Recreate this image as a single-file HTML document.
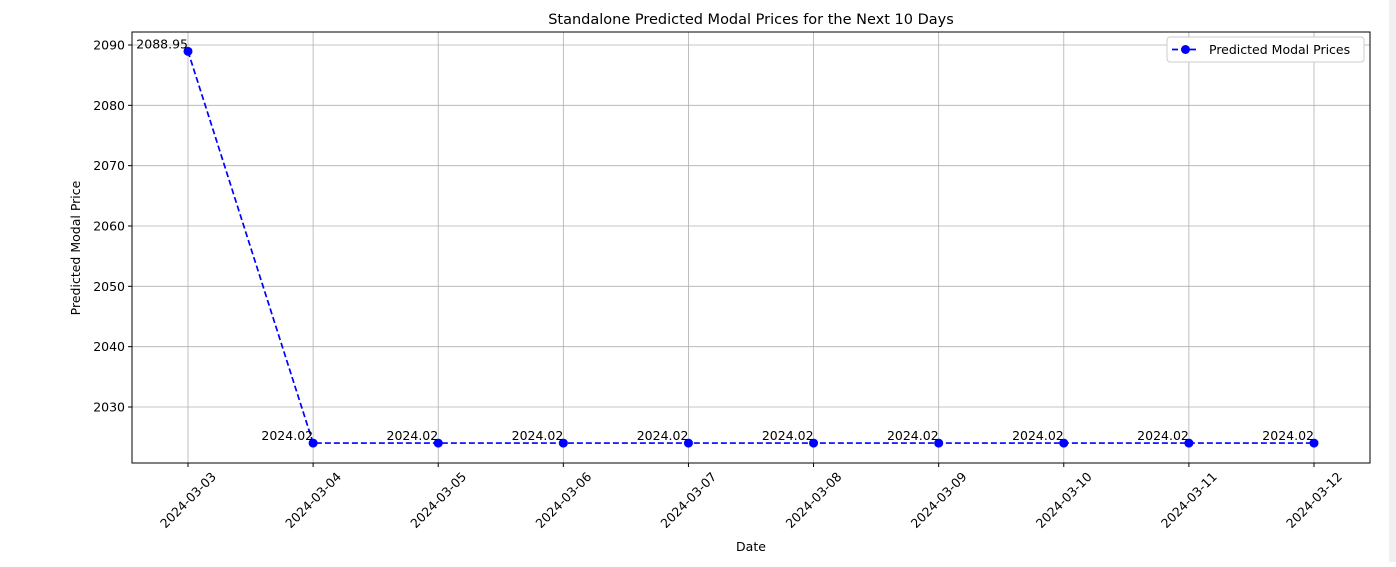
<!DOCTYPE html>
<html><head><meta charset="utf-8"><style>
body{margin:0;background:#fff;width:1396px;height:562px;overflow:hidden}
text{font-family:"DejaVu Sans","Liberation Sans",sans-serif;fill:#000}
</style></head><body>
<svg id="chart" width="1396" height="562" xmlns="http://www.w3.org/2000/svg">
<rect x="1389" y="0" width="7" height="562" fill="#f0f0f0"/>
<text x="751" y="24" font-size="14.5" text-anchor="middle">Standalone Predicted Modal Prices for the Next 10 Days</text>
<g id="grid"></g><g id="axes"></g><g id="marks"></g>
<text x="751" y="551" font-size="12.5" text-anchor="middle">Date</text>
<text transform="translate(80,248) rotate(-90)" font-size="12.5" text-anchor="middle">Predicted Modal Price</text>
<g>
<rect x="1167" y="37" width="197" height="25" rx="3" fill="#fff" stroke="#ccc"/>
<line x1="1172" y1="49.5" x2="1199" y2="49.5" stroke="#0000ff" stroke-width="1.7" stroke-dasharray="6,3"/>
<circle cx="1185.5" cy="49.5" r="4.5" fill="#0000ff"/>
<text x="1209" y="54" font-size="12.5">Predicted Modal Prices</text>
</g>
</svg>
<script>
const dates=["2024-03-03","2024-03-04","2024-03-05","2024-03-06","2024-03-07","2024-03-08","2024-03-09","2024-03-10","2024-03-11","2024-03-12"];
const prices=[2088.95,2024.02,2024.02,2024.02,2024.02,2024.02,2024.02,2024.02,2024.02,2024.02];
const yTicks=[2030,2040,2050,2060,2070,2080,2090];
const L=132,R=1370,T=32,B=463;
const xS=i=>188+i*(1314-188)/(dates.length-1);
const yS=v=>407+(2030-v)*(362/60);
const NS="http://www.w3.org/2000/svg";
function mk(tag,attrs,parent,txt){const e=document.createElementNS(NS,tag);for(const k in attrs)e.setAttribute(k,attrs[k]);if(txt!==undefined)e.textContent=txt;document.getElementById(parent).appendChild(e);return e;}
yTicks.forEach(v=>{const y=yS(v);
 const g=mk('line',{x1:L,x2:R,y1:y,y2:y,stroke:'#b0b0b0','stroke-width':0.8},'grid');
 
 
 mk('line',{x1:L-4,x2:L,y1:y,y2:y,stroke:'#000'},'axes');
 const t=mk('text',{x:L-7,y:y+4.5,'font-size':12.5,'text-anchor':'end'},'axes',String(v));
 
 
});
dates.forEach((d,i)=>{const x=xS(i);
 const g=mk('line',{x1:x,x2:x,y1:T,y2:B,stroke:'#b0b0b0','stroke-width':0.8},'grid');
 
 
 mk('line',{x1:x,x2:x,y1:B,y2:B+4,stroke:'#000'},'axes');
 const cy=B+37;
 const t=mk('text',{x:x,y:cy+4.5,'font-size':12.5,'text-anchor':'middle',transform:`rotate(-45 ${x} ${cy})`},'axes',d);
 
 
});
const fr=mk('rect',{x:L,y:T,width:R-L,height:B-T,fill:'none',stroke:'#000','stroke-width':1},'axes');


const pl=mk('polyline',{points:prices.map((v,i)=>xS(i)+','+yS(v)).join(' '),fill:'none',stroke:'#0000ff','stroke-width':1.7,'stroke-dasharray':'6,3'},'marks');


prices.forEach((v,i)=>{
 const c=mk('circle',{cx:xS(i),cy:yS(v),r:4.5,fill:'#0000ff'},'marks');
 
 
 const t=mk('text',{x:xS(i),y:yS(v)-3,'font-size':12.5,'text-anchor':'end'},'marks',v.toFixed(2));
 
 
});
</script>
</body></html>
